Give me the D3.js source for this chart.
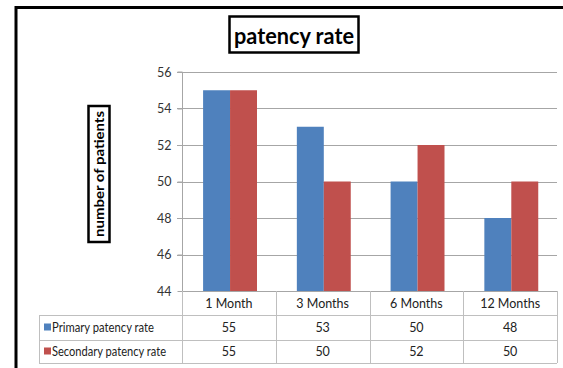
<!DOCTYPE html>
<html>
<head>
<meta charset="utf-8">
<script src="https://cdn.jsdelivr.net/npm/d3@7"></script>
<style>
  html, body { margin: 0; padding: 0; background: #fff; }
  svg { display: block; font-family: Lato, "Open Sans", sans-serif; }
</style>
</head>
<body>
<svg id="chart" width="563" height="368"></svg>
<script>
// Patency rate by follow-up period
const categories = ["1 Month", "3 Months", "6 Months", "12 Months"];
const seriesNames = ["Primary patency rate", "Secondary patency rate"];
const primaryValues = [55, 53, 50, 48];
const secondaryValues = [55, 50, 52, 50];
const yTicks = [44, 46, 48, 50, 52, 54, 56];
const colors = ["#4f81bd", "#c0504d"];

const seriesValues = [primaryValues, secondaryValues];

const svg = d3.select("#chart");

const plot = { left: 182, right: 557, top: 72, bottom: 291 };
const table = { left: 39, rowTops: [291, 315, 340, 363] };

// outer frame (right/bottom edges fall outside the canvas)
svg.append("rect")
  .attr("x", 16).attr("y", 7.5)
  .attr("width", 600).attr("height", 400)
  .attr("fill", "none").attr("stroke", "#000").attr("stroke-width", 3);

const x = d3.scaleBand().domain(categories).range([plot.left, plot.right]).padding(0);
const bw = x.bandwidth();
const xs = d3.scaleBand().domain(seriesNames).range([bw * 0.225, bw * 0.8]).padding(0);
const y = d3.scaleLinear().domain([44, 56]).range([plot.bottom, plot.top]);

// gridlines
svg.append("g")
  .selectAll("line").data(yTicks.slice(1)).join("line")
  .attr("x1", plot.left - 5).attr("x2", plot.right)
  .attr("y1", d => Math.round(y(d)) + 0.5).attr("y2", d => Math.round(y(d)) + 0.5)
  .attr("stroke", "#a6a6a6").attr("stroke-width", 1);

// y axis
const yAxis = d3.axisLeft(y).tickValues(yTicks).tickSize(5).tickPadding(6).tickFormat(d3.format("d"));
const gy = svg.append("g").attr("transform", `translate(${plot.left + 0.5},0)`).call(yAxis);
gy.select(".domain").attr("stroke", "#a6a6a6").attr("d", `M-5,${plot.top}H0V${plot.bottom}`);
gy.selectAll(".tick line").attr("stroke", "#a6a6a6");
gy.selectAll(".tick text").attr("fill", "#333").style("font-size", "12.5px").style("font-family", "Lato, sans-serif");

// bars
categories.forEach((c, i) => {
  seriesNames.forEach((s, j) => {
    const v = seriesValues[j][i];
    svg.append("rect")
      .attr("x", x(c) + xs(s))
      .attr("y", y(v))
      .attr("width", xs.bandwidth())
      .attr("height", y(44) - y(v))
      .attr("fill", colors[j]);
  });
});

// data table below the plot
const tg = svg.append("g").attr("stroke", "#bfbfbf").attr("stroke-width", 1);
const rt = table.rowTops;
// horizontal lines
tg.append("line").attr("x1", plot.left).attr("x2", plot.right).attr("y1", rt[0] + 0.5).attr("y2", rt[0] + 0.5).attr("stroke", "#a6a6a6");
[rt[1], rt[2], rt[3]].forEach(yy => {
  tg.append("line").attr("x1", table.left).attr("x2", plot.right).attr("y1", yy + 0.5).attr("y2", yy + 0.5);
});
// vertical lines
tg.append("line").attr("x1", table.left + 0.5).attr("x2", table.left + 0.5).attr("y1", rt[1]).attr("y2", rt[3]);
categories.forEach(c => {
  const xx = Math.round(x(c)) + 0.5;
  tg.append("line").attr("x1", xx).attr("x2", xx).attr("y1", rt[0]).attr("y2", rt[3]);
});
tg.append("line").attr("x1", plot.right + 0.5).attr("x2", plot.right + 0.5).attr("y1", rt[0]).attr("y2", rt[3]);

const textStyle = sel => sel.attr("fill", "#222").style("font-size", "12.5px").style("font-family", "Lato, sans-serif");

// category header row
svg.append("g").selectAll("text").data(categories).join("text")
  .attr("x", d => x(d) + bw / 2)
  .attr("y", (rt[0] + rt[1]) / 2 + 4.5)
  .attr("text-anchor", "middle")
  .text(d => d)
  .call(textStyle);

// series rows
seriesNames.forEach((s, j) => {
  const cy = (rt[j + 1] + rt[j + 2]) / 2;
  svg.append("rect").attr("x", 44).attr("y", cy - 4).attr("width", 7).attr("height", 7).attr("fill", colors[j]);
  svg.append("text").attr("x", 52).attr("y", cy + 4.5).text(s).call(textStyle)
    .style("font-size", "13px").attr("textLength", j === 0 ? 102 : 114).attr("lengthAdjust", "spacingAndGlyphs");
  svg.append("g").selectAll("text").data(seriesValues[j]).join("text")
    .attr("x", (d, i) => x(categories[i]) + bw / 2)
    .attr("y", cy + 4.5)
    .attr("text-anchor", "middle")
    .text(d => d)
    .call(textStyle);
});

// chart title in a box
svg.append("rect").attr("x", 229.5).attr("y", 16.5).attr("width", 129).attr("height", 36)
  .attr("fill", "#fff").attr("stroke", "#000").attr("stroke-width", 2.5);
svg.append("text").attr("x", 294).attr("y", 44).attr("text-anchor", "middle")
  .style("font-size", "23px").style("font-weight", "bold").style("font-family", "Lato, sans-serif")
  .attr("textLength", 120).attr("lengthAdjust", "spacingAndGlyphs")
  .attr("fill", "#000").text("patency rate");

// y axis title in a box
const ytG = svg.append("g").attr("transform", "translate(99,174) rotate(-90)");
ytG.append("rect").attr("x", -68).attr("y", -10.5).attr("width", 136).attr("height", 21)
  .attr("fill", "#fff").attr("stroke", "#000").attr("stroke-width", 2.5);
ytG.append("text").attr("x", 0).attr("y", 4.5).attr("text-anchor", "middle")
  .style("font-size", "13px").style("font-weight", "bold").style("font-family", "Lato, sans-serif")
  .attr("textLength", 126).attr("lengthAdjust", "spacingAndGlyphs")
  .attr("fill", "#000").text("number of patients");
</script>
</body>
</html>
